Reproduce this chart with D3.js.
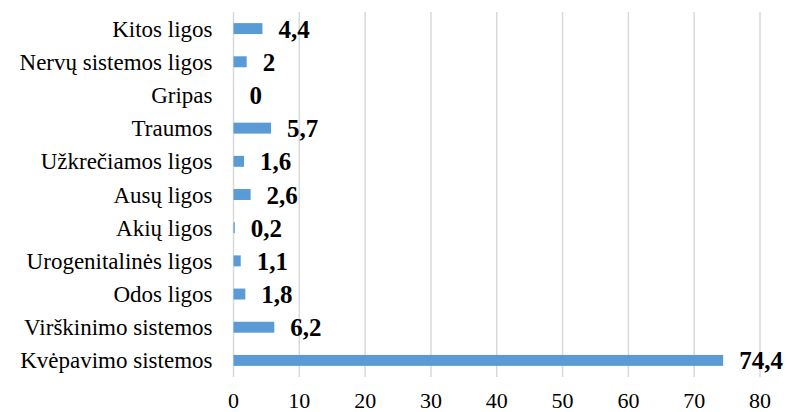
<!DOCTYPE html>
<html>
<head>
<meta charset="utf-8">
<script src="https://cdn.jsdelivr.net/npm/d3@7"></script>
</head>
<body style="margin:0">
<div id="chart"></div>
<script>
// categories top to bottom, as in the picture
const categories = [
  "Kitos ligos",
  "Nervų sistemos ligos",
  "Gripas",
  "Traumos",
  "Užkrečiamos ligos",
  "Ausų ligos",
  "Akių ligos",
  "Urogenitalinės ligos",
  "Odos ligos",
  "Virškinimo sistemos",
  "Kvėpavimo sistemos"
];
const values = [4.4, 2, 0, 5.7, 1.6, 2.6, 0.2, 1.1, 1.8, 6.2, 74.4];
const ticks = [0, 10, 20, 30, 40, 50, 60, 70, 80];

const W = 787, H = 412;
const margin = { top: 12, right: 27, bottom: 35, left: 233.5 };

const svg = d3.select("#chart").append("svg")
  .attr("width", W).attr("height", H);

const x = d3.scaleLinear().domain([0, 80]).range([margin.left, W - margin.right]);
const y = d3.scaleBand().domain(categories)
  .range([margin.top, H - margin.bottom])
  .paddingInner(0.67).paddingOuter(0.335);

// gridlines
svg.append("g").selectAll("line").data(ticks).join("line")
  .attr("x1", d => x(d)).attr("x2", d => x(d))
  .attr("y1", margin.top).attr("y2", H - margin.bottom)
  .attr("stroke", "#d9d9d9").attr("stroke-width", 1.5);

// bars
const data = categories.map((c, i) => ({ cat: c, val: values[i] }));
svg.append("g").selectAll("rect").data(data).join("rect")
  .attr("x", x(0))
  .attr("y", d => y(d.cat))
  .attr("width", d => x(d.val) - x(0))
  .attr("height", y.bandwidth())
  .attr("fill", "#5b9bd5");

// value labels
svg.append("g").selectAll("text").data(data).join("text")
  .attr("x", d => x(d.val) + 16)
  .attr("y", d => y(d.cat) + y.bandwidth() / 2 + 9)
  .style("font-family", `"Times New Roman", monospace`)
  .attr("font-size", 25)
  .attr("font-weight", "bold")
  .text(d => String(d.val).replace(".", ","));

// category labels
svg.append("g").selectAll("text").data(categories).join("text")
  .attr("x", margin.left - 21)
  .attr("y", d => y(d) + y.bandwidth() / 2 + 8)
  .attr("text-anchor", "end")
  .style("font-family", `"Times New Roman", monospace`)
  .attr("font-size", 23)
  .text(d => d);

// x tick labels
svg.append("g").selectAll("text").data(ticks).join("text")
  .attr("x", d => x(d))
  .attr("y", 408)
  .attr("text-anchor", "middle")
  .style("font-family", `"Times New Roman", monospace`)
  .attr("font-size", 22)
  .text(d => d);
</script>
</body>
</html>
